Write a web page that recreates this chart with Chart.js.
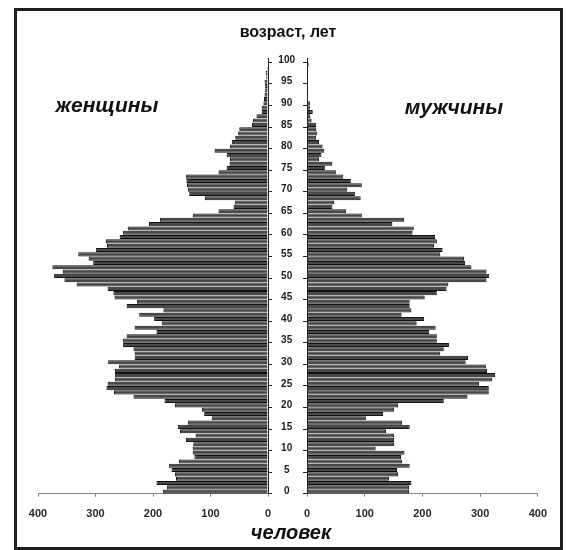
<!DOCTYPE html>
<html>
<head>
<meta charset="utf-8">
<title>Половозрастная пирамида</title>
<script src="https://cdn.jsdelivr.net/npm/chart.js@4.4.1/dist/chart.umd.min.js"></script>
<style>
  body { margin: 0; background: #fff; font-family: Arial, 'Liberation Sans', sans-serif; }
  #frame { position: absolute; left: 14px; top: 8px; width: 543px; height: 536px; border: 3px solid #1e1e1e; }
  canvas { position: absolute; }
  #womenChart { left: 20px; top: 40px; }
  #menChart { left: 268px; top: 40px; }
  .lbl { position: absolute; transform: translate(-50%, -50%); white-space: nowrap; color: #111; font-weight: bold; }
  #title { left: 288px; top: 32px; font-size: 16px; }
  #women { left: 107px; top: 105px; font-size: 21px; font-style: italic; }
  #men { left: 454px; top: 107px; font-size: 21px; font-style: italic; }
  #xTitle { left: 291px; top: 532px; font-size: 20px; font-style: italic; }
</style>
</head>
<body>
<div id="frame"></div>
<canvas id="womenChart" width="260" height="493"></canvas>
<canvas id="menChart" width="290" height="493"></canvas>
<div class="lbl" id="title">возраст, лет</div>
<div class="lbl" id="women">женщины</div>
<div class="lbl" id="men">мужчины</div>
<div class="lbl" id="xTitle">человек</div>

<script>
'use strict';

// global variables
let ages = [];
for (let a = 0; a <= 100; a++) {
  ages.push(a);
}
let ageTickLabels = [0, 5, 10, 15, 20, 25, 30, 35, 40, 45, 50, 55, 60, 65, 70, 75, 80, 85, 90, 95, 100];
let countTicks = [0, 100, 200, 300, 400];

// number of people by age 0..100
let women = [
  183, 176, 194, 160, 162, 168, 172, 155, 128, 131,
  131, 130, 143, 126, 153, 157, 139, 98, 111, 115,
  162, 180, 234, 268, 281, 279, 266, 266, 266, 259,
  278, 232, 232, 234, 252, 252, 246, 194, 232, 185,
  198, 224, 182, 246, 228, 267, 269, 279, 333, 354,
  372, 357, 375, 304, 312, 330, 299, 280, 282, 258,
  252, 244, 207, 188, 131, 86, 60, 58, 110, 137,
  139, 141, 142, 143, 86, 72, 67, 66, 72, 93,
  66, 63, 57, 52, 50, 28, 26, 20, 11, 11,
  8, 7, 6, 5, 5, 6, 3, 4, 2, 1,
  1
];
let men = [
  177, 177, 181, 142, 158, 156, 178, 165, 163, 169,
  119, 151, 151, 151, 137, 178, 165, 102, 132, 151,
  158, 237, 278, 315, 315, 298, 321, 326, 312, 310,
  275, 279, 231, 237, 246, 225, 225, 212, 223, 190,
  203, 164, 181, 178, 178, 204, 225, 242, 245, 311,
  316, 311, 285, 274, 272, 231, 235, 220, 225, 222,
  183, 185, 148, 168, 95, 68, 44, 47, 93, 83,
  70, 95, 76, 63, 50, 31, 44, 21, 25, 30,
  27, 21, 16, 18, 16, 16, 8, 6, 10, 5,
  5, 2, 2, 1, 0, 1, 1, 0, 1, 3,
  2
];

// Helper Functions
function tickMarkColor(context) {
  return ageTickLabels.includes(ages[context.index]) ? '#222' : 'rgba(0,0,0,0)';
}

function makeXAxis(reverse) {
  return {
    type: 'linear',
    min: countTicks[0],
    max: countTicks[countTicks.length - 1],
    reverse: reverse,
    afterBuildTicks: function(scale) {
      scale.ticks = countTicks.map(v => ({ value: v }));
    },
    ticks: {
      color: '#2a2a2a',
      padding: 11,
      font: { family: 'Arial', size: 11, weight: 'bold' }
    },
    grid: { drawOnChartArea: false, tickLength: 3, color: '#8a8a8a' },
    border: { color: '#8a8a8a', width: 1 }
  };
}

function makeDataset(values) {
  return {
    data: values,
    backgroundColor: '#484848',
    borderColor: '#111',
    borderWidth: 1,
    barPercentage: 0.95,
    categoryPercentage: 1
  };
}

// women, bars run leftwards
new Chart(document.getElementById('womenChart'), {
  type: 'bar',
  data: { labels: ages, datasets: [makeDataset(women)] },
  options: {
    indexAxis: 'y',
    responsive: false,
    animation: false,
    layout: { padding: { left: 18, right: 12, top: 18, bottom: 1 } },
    plugins: { legend: { display: false }, tooltip: { enabled: false } },
    scales: {
      x: makeXAxis(true),
      y: {
        position: 'right',
        reverse: true,
        afterFit: function(scale) { scale.width = 0; },
        ticks: { display: false, autoSkip: false },
        grid: { drawOnChartArea: false, tickLength: 4, color: tickMarkColor },
        border: { color: '#222', width: 1 }
      }
    }
  }
});

// men, bars run rightwards, age labels sit in the gap
new Chart(document.getElementById('menChart'), {
  type: 'bar',
  data: { labels: ages, datasets: [makeDataset(men)] },
  options: {
    indexAxis: 'y',
    responsive: false,
    animation: false,
    layout: { padding: { left: 0, right: 20, top: 18, bottom: 1 } },
    plugins: { legend: { display: false }, tooltip: { enabled: false } },
    scales: {
      x: makeXAxis(false),
      y: {
        position: 'left',
        reverse: true,
        afterFit: function(scale) { scale.width = 39; },
        ticks: {
          autoSkip: false,
          crossAlign: 'center',
          padding: 8,
          color: '#1a1a1a',
          font: { family: 'Arial', size: 10, weight: 'bold' },
          callback: function(value, index) {
            return ageTickLabels.includes(ages[index]) ? String(ages[index]) : '';
          }
        },
        grid: { drawOnChartArea: false, tickLength: 4, color: tickMarkColor },
        border: { color: '#222', width: 1 }
      }
    }
  }
});
</script>
</body>
</html>
